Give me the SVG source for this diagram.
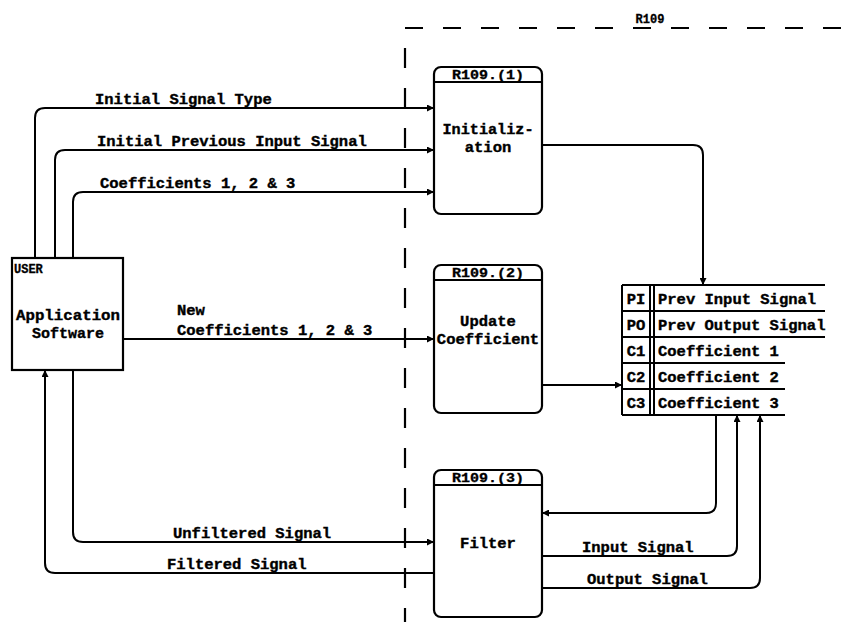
<svg xmlns="http://www.w3.org/2000/svg" width="846" height="622" viewBox="0 0 846 622">
<style>
  .t { font-family: "Liberation Mono", "DejaVu Sans Mono", monospace; font-weight: bold; font-size: 15.5px; fill: #000; stroke: #000; stroke-width: 0.4; }
  .h { font-family: "Liberation Mono", "DejaVu Sans Mono", monospace; font-weight: bold; font-size: 12px; fill: #000; stroke: #000; stroke-width: 0.3; }
  .box { fill: #fff; stroke: #000; stroke-width: 2.2; }
  .ln { fill: none; stroke: #000; stroke-width: 2; }
  .c { fill: none; stroke: #000; stroke-width: 2; marker-end: url(#ah); }
  .d { fill: none; stroke: #000; stroke-width: 2.2; }
</style>
<defs>
  <marker id="ah" viewBox="0 0 10 10" refX="10" refY="5" markerWidth="9" markerHeight="7" markerUnits="userSpaceOnUse" orient="auto">
    <path d="M0,0 L10,5 L0,10 z" fill="#000"/>
  </marker>
</defs>
<rect width="846" height="622" fill="#fff"/>

<g id="boundary">
  <path class="d" d="M405,28 H846" stroke-dasharray="18 20"/>
  <path class="d" d="M405,48 V622" stroke-dasharray="20 20"/>
  <text class="h" x="650" y="23" text-anchor="middle" font-size="14">R109</text>
</g>

<g id="connectors">
  <path class="c" d="M35,258 V118 Q35,108 45,108 H434"/>
  <path class="c" d="M55,258 V160 Q55,150 65,150 H434"/>
  <path class="c" d="M73,258 V202 Q73,192 83,192 H434"/>
  <path class="c" d="M123,339 H434"/>
  <path class="c" d="M542,145 H693 Q703,145 703,155 V285"/>
  <path class="c" d="M542,385 H622"/>
  <path class="c" d="M716,415 V503 Q716,513 706,513 H542"/>
  <path class="c" d="M542,556 H727 Q737,556 737,546 V415"/>
  <path class="c" d="M542,588 H750 Q760,588 760,578 V415"/>
  <path class="c" d="M73,370 V532 Q73,542 83,542 H434"/>
  <path class="c" d="M434,573 H55 Q45,573 45,563 V370"/>
  <text class="t" x="95" y="104">Initial Signal Type</text>
  <text class="t" x="97" y="146">Initial Previous Input Signal</text>
  <text class="t" x="100" y="188">Coefficients 1, 2 &amp; 3</text>
  <text class="t" x="177" y="315">New</text>
  <text class="t" x="177" y="335">Coefficients 1, 2 &amp; 3</text>
  <text class="t" x="173" y="538">Unfiltered Signal</text>
  <text class="t" x="167" y="569">Filtered Signal</text>
  <text class="t" x="582" y="552">Input Signal</text>
  <text class="t" x="587" y="584">Output Signal</text>
</g>

<g id="user">
  <rect class="box" x="12" y="258" width="111" height="112"/>
  <text class="h" x="14" y="273">USER</text>
  <text class="t" x="68" y="320" text-anchor="middle" font-size="12" textLength="104" lengthAdjust="spacingAndGlyphs">Application</text>
  <text class="t" x="68" y="338" text-anchor="middle" font-size="12" textLength="72" lengthAdjust="spacingAndGlyphs">Software</text>
</g>

<g id="r109-1">
  <rect class="box" x="434" y="67" width="108" height="147" rx="7"/>
  <path class="ln" d="M434,82 H542"/>
  <text class="h" x="488" y="79" text-anchor="middle" textLength="72" lengthAdjust="spacingAndGlyphs">R109.(1)</text>
  <text class="t" x="488" y="134" text-anchor="middle" font-size="13.5" textLength="91" lengthAdjust="spacingAndGlyphs">Initializ-</text>
  <text class="t" x="488" y="152" text-anchor="middle" font-size="13.5">ation</text>
</g>

<g id="r109-2">
  <rect class="box" x="434" y="265" width="108" height="148" rx="7"/>
  <path class="ln" d="M434,280 H542"/>
  <text class="h" x="488" y="277" text-anchor="middle" textLength="72" lengthAdjust="spacingAndGlyphs">R109.(2)</text>
  <text class="t" x="488" y="326" text-anchor="middle" font-size="13.5">Update</text>
  <text class="t" x="488" y="344" text-anchor="middle" font-size="13.5">Coefficient</text>
</g>

<g id="r109-3">
  <rect class="box" x="434" y="470" width="108" height="147" rx="7"/>
  <path class="ln" d="M434,485 H542"/>
  <text class="h" x="488" y="482" text-anchor="middle" textLength="72" lengthAdjust="spacingAndGlyphs">R109.(3)</text>
  <text class="t" x="488" y="548" text-anchor="middle">Filter</text>
</g>

<g id="datastore">
  <path class="ln" d="M622,285 V415 M650,285 V415 M654,285 V415"/>
  <path class="ln" d="M622,285 H825 M622,311 H825 M622,337 H825 M622,363 H785 M622,389 H785 M622,415 H785"/>
  <text class="t" x="636" y="304" text-anchor="middle">PI</text>
  <text class="t" x="636" y="330" text-anchor="middle">PO</text>
  <text class="t" x="636" y="356" text-anchor="middle">C1</text>
  <text class="t" x="636" y="382" text-anchor="middle">C2</text>
  <text class="t" x="636" y="408" text-anchor="middle">C3</text>
  <text class="t" x="658" y="304">Prev Input Signal</text>
  <text class="t" x="658" y="330">Prev Output Signal</text>
  <text class="t" x="658" y="356">Coefficient 1</text>
  <text class="t" x="658" y="382">Coefficient 2</text>
  <text class="t" x="658" y="408">Coefficient 3</text>
</g>
</svg>
